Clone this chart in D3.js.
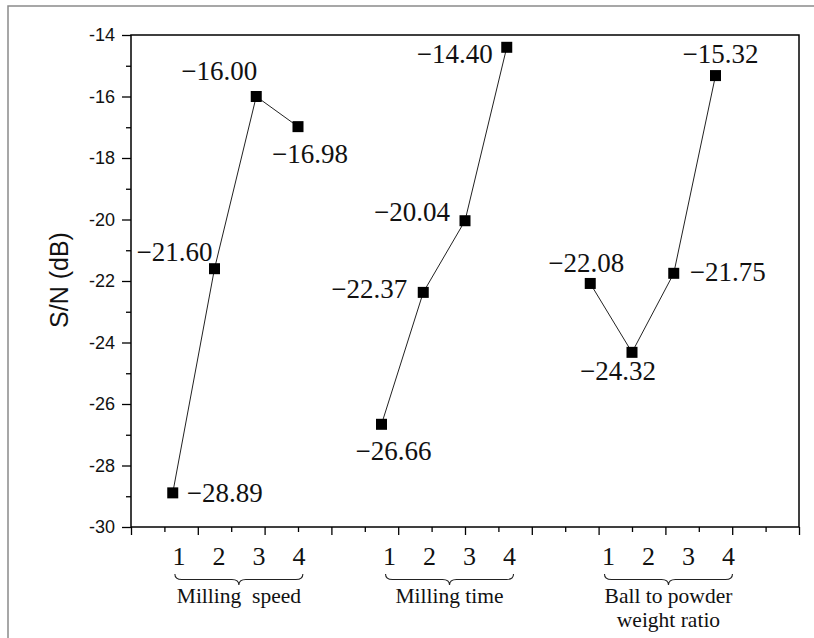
<!DOCTYPE html>
<html>
<head>
<meta charset="utf-8">
<script src="https://cdn.jsdelivr.net/npm/d3@7/dist/d3.min.js"></script>
<style>
  html, body { margin: 0; padding: 0; background: #fff; }
  svg { display: block; }
</style>
</head>
<body>
<svg id="chart" width="814" height="638"></svg>
<script>
// ---------------- data ----------------
const groups = ["Milling  speed", "Milling time", "Ball to powder\nweight ratio"];
const levels = ["1", "2", "3", "4"];
// x positions (axis units) of the four levels of each factor
const speedX = [1, 2, 3, 4];
const timeX = [6, 7, 8, 9];
const ratioX = [11, 12, 13, 14];
// S/N values (dB)
const speedSN = [-28.89, -21.60, -16.00, -16.98];
const timeSN = [-26.66, -22.37, -20.04, -14.40];
const ratioSN = [-22.08, -24.32, -21.75, -15.32];
const yTicks = [-30, -28, -26, -24, -22, -20, -18, -16, -14];
const yLabel = "S/N (dB)";

// ---------------- layout (not data) ----------------
const plot = { left: 131, right: 799, top: 35, bottom: 527 };
// value label placement relative to its marker: [dx, dy, anchor]
const labelPlace = [
  [[14, 9, "start"], [-2, -8, "end"], [1, -17, "end"], [12, 36, "middle"]],
  [[12, 36, "middle"], [-16, 6, "end"], [-15, 0, "end"], [-14, 16, "end"]],
  [[34, -11, "end"], [-14, 28, "middle"], [16, 8, "start"], [5, -13, "middle"]]
];
const groupShift = [3.5, 5.4, 15.6];   // level-number row offset per group (px)

const svg = d3.select("#chart");

// outer gray frame
svg.append("rect")
  .attr("x", 8).attr("y", 6)
  .attr("width", 820).attr("height", 660)
  .attr("fill", "none").attr("stroke", "#8a8a8a").attr("stroke-width", 1.5);

const x = d3.scaleLinear().domain([0, 16]).range([plot.left, plot.right]);
const y = d3.scaleLinear().domain([-30, -14]).range([plot.bottom, plot.top]);

// y axis: major + minor ticks
const yMinor = d3.range(-29, -14, 2);
svg.append("g")
  .attr("transform", `translate(${plot.left},0)`)
  .call(d3.axisLeft(y).tickValues(yMinor).tickSize(5).tickFormat(""))
  .call(g => g.select(".domain").remove())
  .call(g => g.selectAll("line").attr("stroke", "#000").attr("stroke-width", 1.3));
svg.append("g")
  .attr("transform", `translate(${plot.left},0)`)
  .call(d3.axisLeft(y).tickValues(yTicks).tickSize(9).tickPadding(7).tickFormat(d => String(d)))
  .call(g => g.select(".domain").remove())
  .call(g => g.selectAll("line").attr("stroke", "#000").attr("stroke-width", 1.3))
  .call(g => g.selectAll("text")
    .attr("font-family", "'Liberation Sans', Arial, sans-serif")
    .attr("font-size", 18).attr("fill", "#111"));

// x axis: ticks only
const xAll = d3.range(0, 21).map(i => i * 0.8);
svg.append("g")
  .attr("transform", `translate(0,${plot.bottom})`)
  .call(d3.axisBottom(x).tickValues(xAll.filter((d, i) => i % 2 === 1)).tickSize(5).tickFormat(""))
  .call(g => g.select(".domain").remove())
  .call(g => g.selectAll("line").attr("stroke", "#000").attr("stroke-width", 1.3));
svg.append("g")
  .attr("transform", `translate(0,${plot.bottom})`)
  .call(d3.axisBottom(x).tickValues(xAll.filter((d, i) => i % 2 === 0)).tickSize(8).tickFormat(""))
  .call(g => g.select(".domain").remove())
  .call(g => g.selectAll("line").attr("stroke", "#000").attr("stroke-width", 1.3));

// plot box
svg.append("rect")
  .attr("x", plot.left).attr("y", plot.top)
  .attr("width", plot.right - plot.left).attr("height", plot.bottom - plot.top)
  .attr("fill", "none").attr("stroke", "#000").attr("stroke-width", 1.5);

// y label
svg.append("text")
  .attr("transform", `translate(68,280) rotate(-90)`)
  .attr("text-anchor", "middle")
  .attr("font-family", "'Liberation Sans', Arial, sans-serif")
  .attr("font-size", 25).attr("fill", "#111")
  .text(yLabel);

// series
const series = [
  { xs: speedX, vs: speedSN },
  { xs: timeX, vs: timeSN },
  { xs: ratioX, vs: ratioSN }
];
const line = d3.line().x(d => x(d[0])).y(d => y(d[1]));
const serif = "'Liberation Serif', 'Times New Roman', serif";

series.forEach((s, gi) => {
  const pts = s.xs.map((xv, i) => [xv, s.vs[i]]);
  svg.append("path").datum(pts)
    .attr("d", line).attr("fill", "none")
    .attr("stroke", "#222").attr("stroke-width", 1);
  svg.selectAll(null).data(pts).enter().append("rect")
    .attr("x", d => x(d[0]) - 5.5).attr("y", d => y(d[1]) - 5.5)
    .attr("width", 11).attr("height", 11).attr("fill", "#000");
  svg.selectAll(null).data(pts).enter().append("text")
    .attr("x", (d, i) => x(d[0]) + labelPlace[gi][i][0])
    .attr("y", (d, i) => y(d[1]) + labelPlace[gi][i][1])
    .attr("text-anchor", (d, i) => labelPlace[gi][i][2])
    .attr("font-family", serif).attr("font-size", 27).attr("fill", "#111")
    .text(d => "\u2212" + Math.abs(d[1]).toFixed(2));

  // level numbers, brace and group name
  const cx = x((s.xs[0] + s.xs[3]) / 2) + groupShift[gi];
  svg.selectAll(null).data(levels).enter().append("text")
    .attr("x", (d, i) => cx + (i - 1.5) * 40)
    .attr("y", 565)
    .attr("text-anchor", "middle")
    .attr("font-family", serif).attr("font-size", 26).attr("fill", "#111")
    .text(d => d);

  const x0 = cx - 64, x1 = cx + 64, y0 = 574, h = 11, q = 7;
  const ym = y0 + h / 2;
  const p = d3.path();
  p.moveTo(x0, y0);
  p.quadraticCurveTo(x0, ym, x0 + q, ym);
  p.lineTo(cx - q, ym);
  p.quadraticCurveTo(cx, ym, cx, y0 + h);
  p.quadraticCurveTo(cx, ym, cx + q, ym);
  p.lineTo(x1 - q, ym);
  p.quadraticCurveTo(x1, ym, x1, y0);
  svg.append("path").attr("d", p.toString())
    .attr("fill", "none").attr("stroke", "#222").attr("stroke-width", 1.1);

  const lines = groups[gi].split("\n");
  lines.forEach((ln, li) => {
    svg.append("text")
      .attr("x", cx).attr("y", 603 + li * 24)
      .attr("text-anchor", "middle")
      .attr("font-family", serif).attr("font-size", 21.5).attr("fill", "#111")
      .style("white-space", "pre")
      .text(ln);
  });
});
</script>
</body>
</html>
